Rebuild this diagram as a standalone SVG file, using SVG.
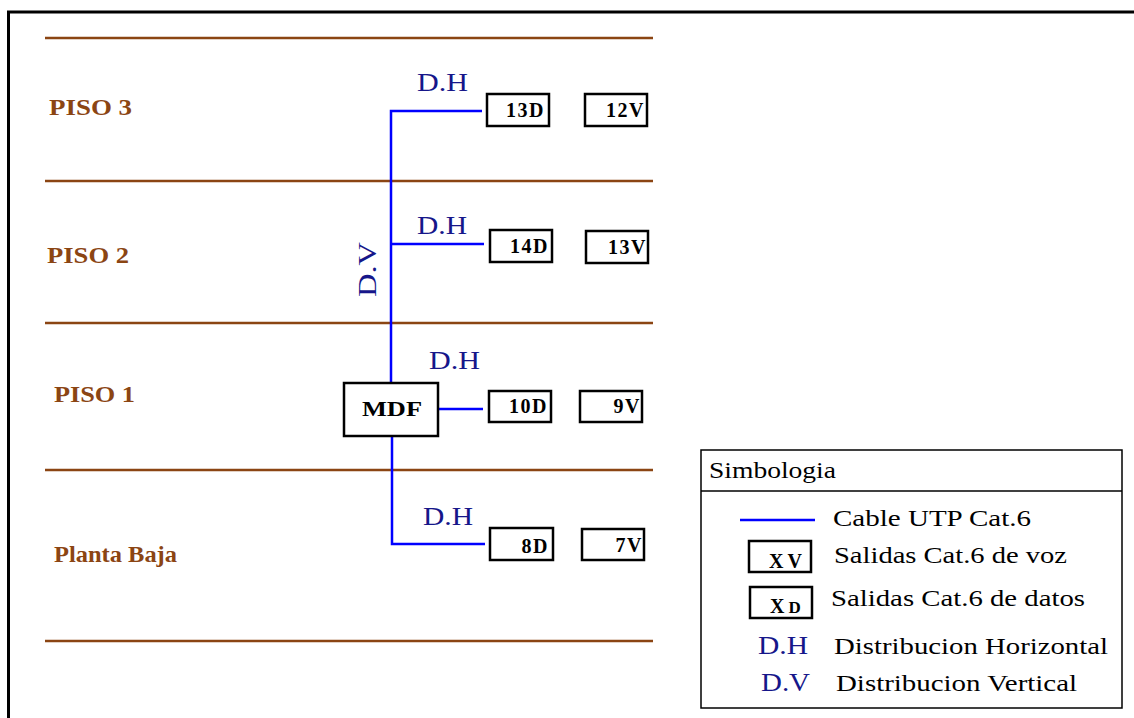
<svg xmlns="http://www.w3.org/2000/svg" width="1134" height="718" viewBox="0 0 1134 718">
<style>
.floor{stroke:#8b4513;stroke-width:2.5;fill:none}
.flbl{font-family:"Liberation Serif",serif;font-weight:bold;font-size:24px;fill:#8b4513}
.cable{stroke:#0000ff;stroke-width:2.5;fill:none}
.box{fill:#fff;stroke:#000;stroke-width:2.5}
.btxt{font-family:"Liberation Serif",serif;font-weight:bold;font-size:20px;fill:#000;text-anchor:end;letter-spacing:1.5px}
.dist{font-family:"Liberation Serif",serif;font-size:25px;fill:#16168a}
.leg{font-family:"Liberation Serif",serif;font-size:24px;fill:#000}
.ltxt{font-family:"Liberation Serif",serif;font-weight:bold;font-size:20px;fill:#000;letter-spacing:4px}
</style>
<rect x="0" y="0" width="1134" height="718" fill="#fff"/>
<path d="M8.5 718 V12 H1134" fill="none" stroke="#000" stroke-width="3"/>
<g id="floors">
<line class="floor" x1="45" y1="38" x2="653" y2="38"/>
<line class="floor" x1="45" y1="181" x2="653" y2="181"/>
<line class="floor" x1="45" y1="323" x2="653" y2="323"/>
<line class="floor" x1="45" y1="470" x2="653" y2="470"/>
<line class="floor" x1="45" y1="641" x2="653" y2="641"/>
<text class="flbl" x="49" y="115" textLength="83" lengthAdjust="spacingAndGlyphs">PISO 3</text>
<text class="flbl" x="47" y="263" textLength="82" lengthAdjust="spacingAndGlyphs">PISO 2</text>
<text class="flbl" x="54" y="402" textLength="81" lengthAdjust="spacingAndGlyphs">PISO 1</text>
<text class="flbl" x="54" y="562" textLength="123" lengthAdjust="spacingAndGlyphs">Planta Baja</text>
</g>
<g id="connectors">
<polyline class="cable" points="482,111 391,111 391,383"/>
<line class="cable" x1="391" y1="244" x2="484" y2="244"/>
<line class="cable" x1="438" y1="409" x2="483" y2="409"/>
<polyline class="cable" points="392,436 392,544 485,544"/>
</g>
<g id="labels">
<text class="dist" x="417" y="91" textLength="51" lengthAdjust="spacingAndGlyphs">D.H</text>
<text class="dist" x="417" y="234" textLength="50" lengthAdjust="spacingAndGlyphs">D.H</text>
<text class="dist" x="429" y="369" textLength="51" lengthAdjust="spacingAndGlyphs">D.H</text>
<text class="dist" x="423" y="525" textLength="50" lengthAdjust="spacingAndGlyphs">D.H</text>
<text class="dist" transform="translate(376,297) rotate(-90)" textLength="55" lengthAdjust="spacingAndGlyphs">D.V</text>
</g>
<g id="mdf">
<rect class="box" x="344" y="383" width="94" height="53"/>
<text x="362" y="416" font-family="Liberation Serif,serif" font-weight="bold" font-size="21" textLength="60" lengthAdjust="spacingAndGlyphs">MDF</text>
</g>
<g id="out-13D"><rect class="box" x="487" y="94" width="62" height="32"/><text class="btxt" x="545" y="117">13D</text></g>
<g id="out-12V"><rect class="box" x="585" y="94" width="62" height="32"/><text class="btxt" x="645" y="117">12V</text></g>
<g id="out-14D"><rect class="box" x="490" y="230" width="62" height="32"/><text class="btxt" x="549" y="253">14D</text></g>
<g id="out-13V"><rect class="box" x="586" y="231" width="62" height="32"/><text class="btxt" x="647" y="254">13V</text></g>
<g id="out-10D"><rect class="box" x="489" y="391" width="62" height="31"/><text class="btxt" x="548" y="413">10D</text></g>
<g id="out-9V"><rect class="box" x="580" y="391" width="62" height="31"/><text class="btxt" x="641" y="413">9V</text></g>
<g id="out-8D"><rect class="box" x="490" y="528" width="63" height="32"/><text class="btxt" x="549" y="553">8D</text></g>
<g id="out-7V"><rect class="box" x="582" y="529" width="62" height="31"/><text class="btxt" x="643" y="552">7V</text></g>
<g id="legend">
<rect x="701" y="450" width="421" height="258" fill="#fff" stroke="#000" stroke-width="1.5"/>
<line x1="701" y1="491" x2="1122" y2="491" stroke="#000" stroke-width="1.5"/>
<text class="leg" x="709" y="478" font-size="22" textLength="127" lengthAdjust="spacingAndGlyphs">Simbologia</text>
<line class="cable" x1="740" y1="520" x2="815" y2="520"/>
<text class="leg" x="833" y="526" textLength="198" lengthAdjust="spacingAndGlyphs">Cable UTP Cat.6</text>
<rect class="box" x="749" y="541" width="62" height="31"/>
<text class="ltxt" x="769" y="568">XV</text>
<text class="leg" x="834" y="563" textLength="233" lengthAdjust="spacingAndGlyphs">Salidas Cat.6 de voz</text>
<rect class="box" x="750" y="587" width="62" height="31"/>
<text class="ltxt" x="770" y="613">X<tspan font-size="17">D</tspan></text>
<text class="leg" x="831" y="606" textLength="254" lengthAdjust="spacingAndGlyphs">Salidas Cat.6 de datos</text>
<text class="dist" x="758" y="654" textLength="50" lengthAdjust="spacingAndGlyphs">D.H</text>
<text class="leg" x="834" y="654" textLength="274" lengthAdjust="spacingAndGlyphs">Distribucion Horizontal</text>
<text class="dist" x="761" y="691" textLength="49" lengthAdjust="spacingAndGlyphs">D.V</text>
<text class="leg" x="836" y="691" textLength="241" lengthAdjust="spacingAndGlyphs">Distribucion Vertical</text>
</g>
</svg>
